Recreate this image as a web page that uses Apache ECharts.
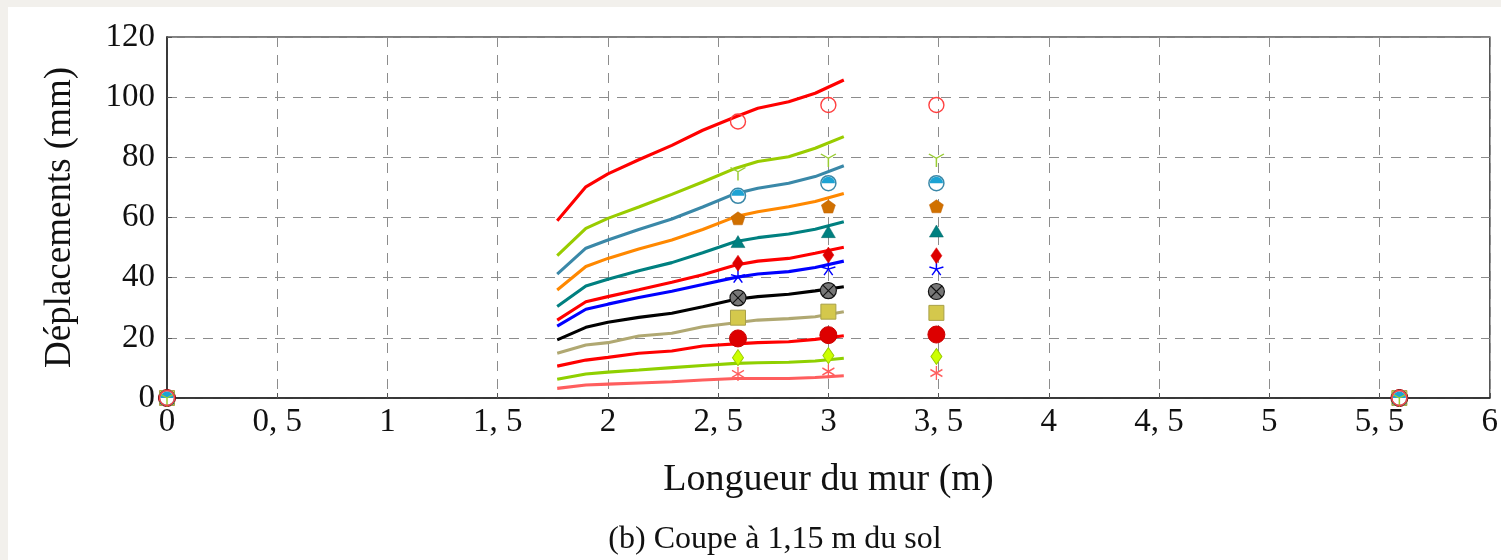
<!DOCTYPE html>
<html>
<head>
<meta charset="utf-8">
<script src="https://cdn.jsdelivr.net/npm/echarts@6/dist/echarts.min.js"></script>
<style>
html,body{margin:0;padding:0;background:#f2f0ec;}
#c{position:absolute;left:0;top:0;width:1501px;height:560px;}
</style>
</head>
<body>
<div id="c"></div>
<script>
// ---- data ----
var lineX = [1.77, 1.9, 2.0, 2.14, 2.29, 2.43, 2.58, 2.68, 2.82, 2.94, 3.07];
var line1 = [58.9, 70.2, 74.5, 79.2, 84.0, 89.0, 93.5, 96.3, 98.5, 101.3, 105.7];
var line2 = [47.3, 56.4, 59.7, 63.5, 67.7, 71.8, 76.4, 78.6, 80.2, 83.0, 86.9];
var line3 = [41.2, 49.8, 52.5, 56.0, 59.5, 63.5, 68.0, 69.7, 71.4, 73.6, 77.2];
var line4 = [35.9, 43.7, 46.4, 49.5, 52.5, 56.0, 60.3, 61.9, 63.6, 65.3, 68.0];
var line5 = [30.4, 37.2, 39.5, 42.3, 45.0, 48.3, 52.0, 53.3, 54.5, 56.1, 58.6];
var line6 = [25.9, 32.0, 33.7, 36.0, 38.5, 41.0, 44.2, 45.5, 46.4, 48.1, 50.1];
var line7 = [23.9, 29.5, 31.2, 33.4, 35.5, 37.7, 40.1, 41.2, 42.0, 43.4, 45.5];
var line8 = [19.3, 23.5, 25.2, 26.8, 28.2, 30.3, 32.8, 33.7, 34.5, 35.6, 37.0];
var line9 = [14.9, 17.6, 18.4, 20.6, 21.5, 23.7, 25.0, 25.9, 26.4, 27.0, 28.7];
var line10 = [10.6, 12.6, 13.5, 14.9, 15.6, 17.3, 18.0, 18.4, 18.7, 19.5, 20.7];
var line11 = [6.2, 8.0, 8.6, 9.3, 10.1, 10.8, 11.5, 11.7, 11.9, 12.3, 13.2];
var line12 = [3.2, 4.3, 4.6, 5.0, 5.4, 6.0, 6.5, 6.5, 6.5, 6.8, 7.4];

var markX = [0, 2.59, 3.0, 3.49, 5.59];
var mark1 = [0, 91.9, 97.4, 97.4, 0];
var mark2 = [0, 75.2, 79.7, 79.7, 0];
var mark3 = [0, 67.2, 71.4, 71.4, 0];
var mark4 = [0, 59.5, 63.4, 63.5, 0];
var mark5 = [0, 52.0, 55.3, 55.5, 0];
var mark6 = [0, 44.8, 47.5, 47.3, 0];
var mark7 = [0, 40.3, 42.8, 42.8, 0];
var mark8 = [0, 33.3, 35.7, 35.4, 0];
var mark9 = [0, 26.7, 28.7, 28.3, 0];
var mark10 = [0, 19.8, 20.9, 21.1, 0];
var mark11 = [0, 13.4, 14.1, 13.8, 0];
var mark12 = [0, 8.0, 8.8, 8.3, 0];

var xTicks = [0, 0.5, 1, 1.5, 2, 2.5, 3, 3.5, 4, 4.5, 5, 5.5, 6];
var yTicks = [0, 20, 40, 60, 80, 100, 120];

// ---- build ----
function pairs(xs, ys){ return xs.map(function(x,i){ return [x, ys[i]]; }); }
var FONT = '"Liberation Serif", "DejaVu Serif", serif';

var lines = [
  [line1, '#ff0000'], [line2, '#99cc00'], [line3, '#3a88a8'], [line4, '#ff8800'],
  [line5, '#008080'], [line6, '#ff0000'], [line7, '#0000ff'], [line8, '#000000'],
  [line9, '#b0a872'], [line10, '#ff0000'], [line11, '#8fd000'], [line12, '#ff5e5e']
];
var series = lines.map(function(l){
  return { type:'line', data: pairs(lineX, l[0]), showSymbol:false, symbol:'none',
    lineStyle:{ color:l[1], width:3.1 }, z:2, animation:false };
});

var P_MERC = 'path://M0,0 L0,1 M0,0 L-0.866,-0.5 M0,0 L0.866,-0.5';
var P_STAR = 'path://M0,0 L0,-1 M0,0 L-0.951,-0.309 M0,0 L-0.588,0.809 M0,0 L0.588,0.809 M0,0 L0.951,-0.309';
var P_PENT = 'path://M0,-1 L0.951,-0.309 L0.588,0.809 L-0.588,0.809 L-0.951,-0.309 Z';
var P_AST = 'path://M0,-1 L0,1 M-0.866,-0.5 L0.866,0.5 M-0.866,0.5 L0.866,-0.5';
var P_X = 'path://M0,0 L1,1 M1,0 L0,1';
var P_HALF = 'path://M0,1 A1,1 0 0 1 2,1 Z';

function sc(ys, sym, size, style, z, offset){
  style.opacity = 1;
  var s = { type:'scatter', data: pairs(markX, ys), symbol:sym, symbolSize:size,
    itemStyle:style, z:z, clip:false, animation:false, silent:true };
  if (offset) s.symbolOffset = offset;
  return s;
}
// drawn bottom to top (last series on top)
var marks = [
  sc(mark12, P_AST, [12,14], {color:'transparent', borderColor:'#ff5e5e', borderWidth:1.4}, 3),
  sc(mark11, 'diamond', [11,16], {color:'#ccff00', borderColor:'#99cc00', borderWidth:1}, 4),
  sc(mark10, 'circle', 17, {color:'#dd0000', borderColor:'#cc0000', borderWidth:1}, 5),
  sc(mark9, 'rect', 15, {color:'#d4c84c', borderColor:'#a8a048', borderWidth:1}, 6),
  sc(mark8, 'circle', 16, {color:'#777777', borderColor:'#111111', borderWidth:1.2}, 7),
  sc(mark8, P_X, 11, {color:'transparent', borderColor:'#111111', borderWidth:1.1}, 8),
  sc(mark7, P_STAR, [14,13], {color:'transparent', borderColor:'#0000ff', borderWidth:1.4}, 9, [0,-0.7]),
  sc(mark6, 'diamond', [11,16], {color:'#dd0000', borderColor:'#dd0000', borderWidth:0.5}, 10),
  sc(mark5, 'triangle', [14,12], {color:'#008080', borderColor:'#006666', borderWidth:0.5}, 11),
  sc(mark4, P_PENT, [14,13], {color:'#d07000', borderColor:'#c06000', borderWidth:0.5}, 12, [0,-0.7]),
  sc(mark3, 'circle', 15, {color:'#ffffff', borderColor:'#3a88a8', borderWidth:1.5}, 13),
  sc(mark3, P_HALF, [13,6.5], {color:'#1ca3d4'}, 14, [0,-3.25]),
  sc(mark2, P_MERC, [15,13], {color:'transparent', borderColor:'#99cc33', borderWidth:1.4}, 15, [0,2.2]),
  sc(mark1, 'circle', 15, {color:'transparent', borderColor:'#ff4040', borderWidth:1.4}, 16)
];
series = series.concat(marks);

var chart = echarts.init(document.getElementById('c'), null, {renderer:'canvas'});
chart.setOption({
  animation:false,
  backgroundColor:'transparent',
  graphic:[
    {type:'rect', left:8, top:7, shape:{width:1493, height:553}, style:{fill:'#ffffff'}, z:-10, silent:true},
    {type:'text', x:775, y:540, style:{text:'(b) Coupe à 1,15 m du sol', font:'32px ' + FONT, fill:'#111', textAlign:'center', textVerticalAlign:'middle'}}
  ],
  grid:{ left:167, top:37, width:1326, height:361, show:true, borderColor:'#555', borderWidth:1.5, backgroundColor:'transparent' },
  xAxis:{
    type:'value', min:0, max:6, interval:0.5,
    name:'Longueur du mur (m)', nameLocation:'middle', nameGap:63,
    nameTextStyle:{ fontFamily:FONT, fontSize:38, color:'#111' },
    axisLine:{ show:true, lineStyle:{ color:'#222', width:1.5 } },
    axisTick:{ show:true, inside:true, length:5, lineStyle:{ color:'#555' } },
    axisLabel:{ fontFamily:FONT, fontSize:33, color:'#111', margin:8,
      formatter:function(v){ return xTicks.indexOf(v) >= 0 ? String(v).replace('.', ', ') : ''; } },
    splitLine:{ show:true, lineStyle:{ color:'#8c8c8c', type:[10,8], width:1 } }
  },
  yAxis:{
    type:'value', min:0, max:120, interval:20,
    name:'Déplacements (mm)', nameLocation:'middle', nameGap:88, nameRotate:90,
    nameTextStyle:{ fontFamily:FONT, fontSize:37, color:'#111' },
    axisLine:{ show:true, lineStyle:{ color:'#222', width:1.5 } },
    axisTick:{ show:true, inside:true, length:5, lineStyle:{ color:'#555' } },
    axisLabel:{ fontFamily:FONT, fontSize:33, color:'#111', margin:12,
      formatter:function(v){ return yTicks.indexOf(v) >= 0 ? String(v) : ''; } },
    splitLine:{ show:true, lineStyle:{ color:'#8c8c8c', type:[10,8], width:1 } }
  },
  series: series
});
</script>
</body>
</html>
